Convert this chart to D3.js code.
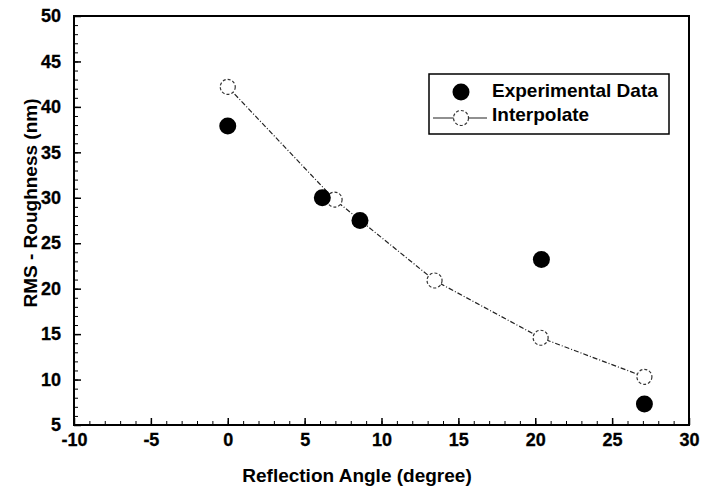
<!DOCTYPE html>
<html>
<head>
<meta charset="utf-8">
<script src="https://cdn.jsdelivr.net/npm/d3@7"></script>
<style>
  html, body { margin: 0; padding: 0; background: #fff; }
  svg { display: block; }
  text { font-family: "Liberation Sans", Arial, Helvetica, sans-serif; font-weight: bold; fill: #000; }
</style>
</head>
<body>
<svg id="chart" width="713" height="493"></svg>
<script>
// Measured roughness vs. reflection angle
const expAngle = [0, 6.15, 8.6, 20.4, 27.1];
const expRms   = [37.9, 30.0, 27.5, 23.2, 7.3];

// Interpolated curve
const intAngle = [0, 6.95, 13.45, 20.35, 27.1];
const intRms   = [42.2, 29.8, 20.9, 14.6, 10.3];

const xTicks = [-10, -5, 0, 5, 10, 15, 20, 25, 30];
const yTicks = [5, 10, 15, 20, 25, 30, 35, 40, 45, 50];
const seriesNames = ["Experimental Data", "Interpolate"];

const svg = d3.select("#chart");
const L = 74, R = 689, T = 16, B = 425;

const x = d3.scaleLinear().domain([-10, 30]).range([L, R]);
const y = d3.scaleLinear().domain([5, 50]).range([B, T]);

// plain hyphen for negative numbers
const fmt = d => String(d);

// Frame
svg.append("rect")
  .attr("x", L).attr("y", T).attr("width", R - L).attr("height", B - T)
  .attr("fill", "none").attr("stroke", "#000").attr("stroke-width", 2);

// Minor ticks every unit, pointing inward
const xMinor = d3.range(-10, 30.01, 1);
const yMinor = d3.range(5, 50.01, 1);

const xAxis = d3.axisBottom(x).tickValues(xTicks).tickSize(-7).tickPadding(8).tickFormat(fmt);
const yAxis = d3.axisLeft(y).tickValues(yTicks).tickSize(-7).tickPadding(13).tickFormat(fmt);

const gx = svg.append("g").attr("transform", `translate(0,${B})`).call(xAxis);
const gy = svg.append("g").attr("transform", `translate(${L},0)`).call(yAxis);

svg.append("g").attr("transform", `translate(0,${B})`)
  .call(d3.axisBottom(x).tickValues(xMinor).tickSize(-4).tickFormat(""))
  .call(g => g.select(".domain").remove());
svg.append("g").attr("transform", `translate(${L},0)`)
  .call(d3.axisLeft(y).tickValues(yMinor).tickSize(-4).tickFormat(""))
  .call(g => g.select(".domain").remove());

[gx, gy].forEach(g => {
  g.select(".domain").remove();
  g.attr("font-family", "'Liberation Sans', Arial, sans-serif")
   .attr("font-size", 18).attr("font-weight", "bold");
  g.selectAll(".tick line").attr("stroke", "#000").attr("stroke-width", 1.5);
  g.selectAll(".tick text")
    .attr("font-weight", "bold")
    .style("font-size", "18px").style("font-weight", "700")
    .attr("stroke", "#000").attr("stroke-width", 0.3);
});
svg.selectAll(".tick line").attr("stroke", "#000");

// Axis titles
svg.append("text")
  .attr("x", 357).attr("y", 482)
  .attr("text-anchor", "middle").style("font-size", "19px")
  .text("Reflection Angle (degree)");
svg.append("text")
  .attr("transform", `translate(37,203) rotate(-90)`)
  .attr("text-anchor", "middle").style("font-size", "19px")
  .text("RMS - Roughness (nm)");

// Interpolated line and hollow markers
const intPts = intAngle.map((a, i) => [a, intRms[i]]);
svg.append("path")
  .datum(intPts)
  .attr("d", d3.line().x(d => x(d[0])).y(d => y(d[1])))
  .attr("fill", "none").attr("stroke", "#222").attr("stroke-width", 1.2)
  .attr("stroke-dasharray", "5,2,1,2");

svg.append("g").selectAll("circle")
  .data(intPts).join("circle")
  .attr("cx", d => x(d[0])).attr("cy", d => y(d[1])).attr("r", 7.5)
  .attr("fill", "#fff").attr("stroke", "#333").attr("stroke-width", 1.2)
  .attr("stroke-dasharray", "3,2");

// Experimental filled markers
const expPts = expAngle.map((a, i) => [a, expRms[i]]);
svg.append("g").selectAll("circle")
  .data(expPts).join("circle")
  .attr("cx", d => x(d[0])).attr("cy", d => y(d[1])).attr("r", 8.5)
  .attr("fill", "#000");

// Legend
const lg = svg.append("g");
lg.append("rect").attr("x", 429).attr("y", 74).attr("width", 240).attr("height", 60)
  .attr("fill", "#fff").attr("stroke", "#000").attr("stroke-width", 1.5);
lg.append("circle").attr("cx", 461).attr("cy", 92).attr("r", 8.5).attr("fill", "#000");
lg.append("line").attr("x1", 433).attr("x2", 487).attr("y1", 118).attr("y2", 118)
  .attr("stroke", "#222").attr("stroke-width", 1.2);
lg.append("circle").attr("cx", 461).attr("cy", 118).attr("r", 7.5)
  .attr("fill", "#fff").attr("stroke", "#333").attr("stroke-width", 1.2).attr("stroke-dasharray", "3,2");
lg.selectAll("text.lbl").data(seriesNames).join("text").attr("class", "lbl")
  .attr("x", 492).attr("y", (d, i) => 97 + i * 24)
  .style("font-size", "19px")
  .text(d => d);
</script>
</body>
</html>
